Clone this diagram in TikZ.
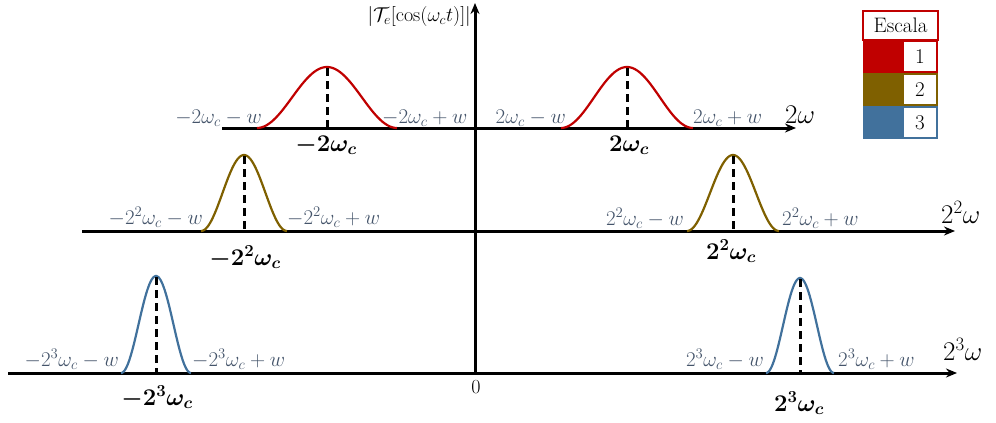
\RequirePackage{fix-cm}
\documentclass[tikz,border=0pt]{standalone}
\usepackage{bm}
\usetikzlibrary{arrows.meta}
\definecolor{cred}{HTML}{C00000}
\definecolor{colive}{HTML}{7F6000}
\definecolor{cblue}{HTML}{41719C}
\definecolor{lbl}{HTML}{44546A}
\newcommand\bellcurve[5]{\draw[bell,#5] plot[domain=-1:1,samples=60,smooth] ({#1+#2*\x},{#3-(#3-#4)*(1+cos(180*\x))/2});}
\begin{document}
\begin{tikzpicture}[x=1pt,y=-1pt,
 axis/.style={line width=3pt,-{Stealth[length=11pt,width=9pt]}},
 bell/.style={line width=2.2pt},
 peakline/.style={line width=3pt,dash pattern=on 8pt off 5pt},
 lab/.style={text=lbl,font=\fontsize{21}{23}\selectfont,inner sep=0pt},
 blab/.style={font=\fontsize{24}{26}\selectfont,inner sep=0pt},
 alab/.style={font=\fontsize{27}{29}\selectfont,inner sep=0pt},
 legbox/.style={line width=1.3pt,fill=white},
 legtxt/.style={font=\fontsize{21}{23}\selectfont,inner sep=0pt}]
\useasboundingbox (0,0) rectangle (996,423);

% axes
\coordinate (v0) at (475,373);
\coordinate (v1) at (475,3);
\coordinate (a1s) at (222,128); \coordinate (a1e) at (796,128);
\coordinate (a2s) at (82,231);  \coordinate (a2e) at (955,231);
\coordinate (a3s) at (8,373);   \coordinate (a3e) at (957,373);
\draw[axis] (v0) -- (v1);
\draw[axis] (a1s) -- (a1e);
\draw[axis] (a2s) -- (a2e);
\draw[axis] (a3s) -- (a3e);

% bells
\bellcurve{327}{70}{128}{67}{cred}
\bellcurve{627}{66}{128}{67}{cred}
\bellcurve{244}{43}{231}{155}{colive}
\bellcurve{733}{46}{231}{155}{colive}
\bellcurve{156}{35}{373}{276}{cblue}
\bellcurve{800}{34}{373}{278}{cblue}

% peak dashed lines
\coordinate (p1) at (327,68);  \coordinate (q1) at (327,128);
\coordinate (p2) at (627,68);  \coordinate (q2) at (627,128);
\coordinate (p3) at (244,156); \coordinate (q3) at (244,231);
\coordinate (p4) at (733,156); \coordinate (q4) at (733,231);
\coordinate (p5) at (156,277); \coordinate (q5) at (156,373);
\coordinate (p6) at (800,279); \coordinate (q6) at (800,373);
\foreach \i in {1,...,6} {\draw[peakline] (p\i) -- (q\i);}

% top row labels
\node[lab,anchor=base east] (l1a) at (262,123) {$-2\omega_c-w$};
\node[lab,anchor=base west] (l1b) at (382,123) {$-2\omega_c+w$};
\node[lab,anchor=base east] (l1c) at (566,123) {$2\omega_c-w$};
\node[lab,anchor=base west] (l1d) at (693,123) {$2\omega_c+w$};
\node[alab,anchor=base west] (x1) at (785,123) {$2\omega$};
\node[blab,anchor=base] (b1a) at (326,151) {$\bm{-2\omega_c}$};
\node[blab,anchor=base] (b1b) at (629,151) {$\bm{2\omega_c}$};

% middle row labels
\node[lab,anchor=base east] (l2a) at (203,224) {$-2^2\omega_c-w$};
\node[lab,anchor=base west] (l2b) at (287,224) {$-2^2\omega_c+w$};
\node[lab,anchor=base east] (l2c) at (684,225) {$2^2\omega_c-w$};
\node[lab,anchor=base west] (l2d) at (782,225) {$2^2\omega_c+w$};
\node[alab,anchor=base west] (x2) at (941,223) {$2^2\omega$};
\node[blab,anchor=base] (b2a) at (245,265) {$\bm{-2^2\omega_c}$};
\node[blab,anchor=base] (b2b) at (731,259) {$\bm{2^2\omega_c}$};

% bottom row labels
\node[lab,anchor=base east] (l3a) at (119,366) {$-2^3\omega_c-w$};
\node[lab,anchor=base west] (l3b) at (192,366) {$-2^3\omega_c+w$};
\node[lab,anchor=base east] (l3c) at (764,366) {$2^3\omega_c-w$};
\node[lab,anchor=base west] (l3d) at (838,366) {$2^3\omega_c+w$};
\node[alab,anchor=base west] (x3) at (943,360) {$2^3\omega$};
\node[blab,anchor=base] (b3a) at (157,405) {$\bm{-2^3\omega_c}$};
\node[blab,anchor=base] (b3b) at (799,411) {$\bm{2^3\omega_c}$};

% origin and vertical label
\node[font=\fontsize{20}{22}\selectfont,inner sep=0pt] (zero) at (476,387) {$0$};
\node[font=\fontsize{20}{22}\selectfont,inner sep=0pt,anchor=base east] (ylab) at (471,21) {$|\mathcal{T}_e[\cos(\omega_c t)]|$};

% legend
\draw[legbox,draw=cred] (863,11) rectangle (938,40);
\node[legtxt] (esc) at (900.5,25.5) {Escala};
\fill[cred] (863,40) rectangle (903,73);
\draw[legbox,draw=cred] (903,41) rectangle (937,72);
\node[legtxt] (n1) at (920,57) {1};
\fill[colive] (863,73) rectangle (903,106);
\draw[legbox,draw=colive] (903,74) rectangle (937,105);
\node[legtxt] (n2) at (920,90) {2};
\fill[cblue] (863,106) rectangle (903,139);
\draw[legbox,draw=cblue] (903,107) rectangle (937,138);
\node[legtxt] (n3) at (920,123) {3};
\end{tikzpicture}
\end{document}
